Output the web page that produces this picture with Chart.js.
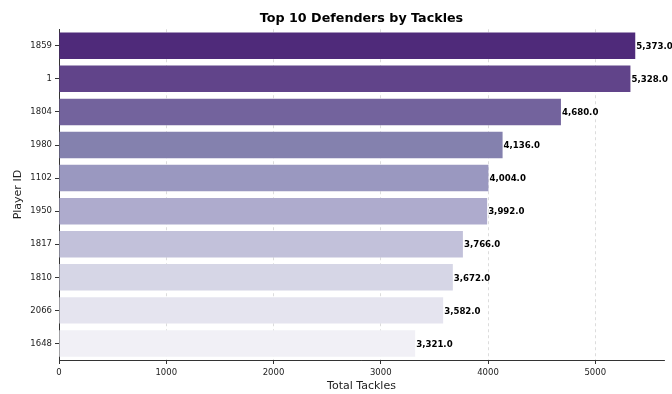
<!DOCTYPE html>
<html><head><meta charset="utf-8">
<script src="https://cdn.jsdelivr.net/npm/chart.js@4"></script>
<style>html,body{margin:0;padding:0;background:#fff}#wrap{width:672px;height:394px}</style>
</head><body><div id="wrap"><canvas id="c" width="672" height="394"></canvas></div>
<script>
const playerIds = ['1859','1','1804','1980','1102','1950','1817','1810','2066','1648'];
const totalTackles = [5373,5328,4680,4136,4004,3992,3766,3672,3582,3321];
const barColors = ['#4f2a7a','#61448a','#73639d','#8481ae','#9a98c0','#aeabcd','#c2c1da','#d6d6e6','#e5e4ef','#f1f0f6'];
const xTicks = [0,1000,2000,3000,4000,5000];
const xMax = 5641;

Chart.defaults.font.family = '"DejaVu Sans", sans-serif';

function fmt(v){ return v.toLocaleString('en-US',{minimumFractionDigits:1,maximumFractionDigits:1}); }

const valueLabels = {
  id:'valueLabels',
  afterDraw(chart){
    const ctx = chart.ctx;
    const meta = chart.getDatasetMeta(0);
    ctx.save();
    ctx.font = 'bold 8.6px "DejaVu Sans"';
    ctx.fillStyle = '#000';
    ctx.textAlign = 'left';
    ctx.textBaseline = 'middle';
    meta.data.forEach((bar,i)=>{ ctx.fillText(fmt(totalTackles[i]), bar.x+1, bar.y+1); });
    ctx.restore();
  }
};

new Chart(document.getElementById('c'), {
  type:'bar',
  data:{
    labels: playerIds,
    datasets:[{ data: totalTackles, backgroundColor: barColors, borderWidth:0, categoryPercentage:1, barPercentage:0.8 }]
  },
  options:{
    indexAxis:'y',
    responsive:false,
    animation:false,
    layout:{ padding:{ left:0, right:8, top:0, bottom:0 } },
    plugins:{
      legend:{ display:false },
      tooltip:{ enabled:false },
      title:{ display:true, text:'Top 10 Defenders by Tackles', fullSize:false, color:'#000',
        font:{ size:12.7, weight:'bold' }, padding:{ top:11.5, bottom:2.5 } }
    },
    scales:{
      x:{
        min:0, max:xMax, z:1,
        afterBuildTicks(scale){ scale.ticks = xTicks.map(v=>({value:v})); },
        afterFit(scale){ scale.height = 34; },
        ticks:{ color:'#222', font:{ size:8.5 }, padding:4, maxRotation:0, callback:(v)=>String(v) },
        grid:{ color:'rgba(170,170,170,0.5)', lineWidth:0.8, tickColor:'#333', tickLength:4, tickWidth:1 },
        border:{ display:true, color:'#333', width:1, dash:[3,3] },
        title:{ display:true, text:'Total Tackles', color:'#222', font:{ size:11 }, padding:{ top:0, bottom:1 } }
      },
      y:{
        afterFit(scale){ scale.width = 59; },
        ticks:{ color:'#222', font:{ size:8.5 }, padding:3 },
        grid:{ offset:false, drawOnChartArea:false, drawTicks:true, tickColor:'#333', tickLength:4, tickWidth:1 },
        border:{ display:true, color:'#333', width:1 },
        title:{ display:true, text:'Player ID', color:'#222', font:{ size:11 }, padding:{ top:12, bottom:0 } }
      }
    }
  },
  plugins:[valueLabels]
});
</script></body></html>
